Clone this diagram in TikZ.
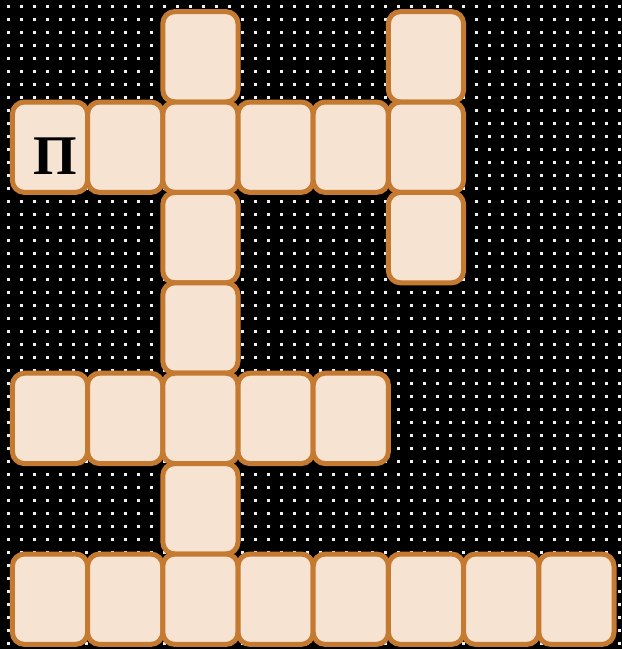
\documentclass[tikz,border=0pt]{standalone}
\usepackage{fontspec}
\setmainfont{Liberation Serif}
\usetikzlibrary{positioning}
\definecolor{cellFill}{RGB}{246,227,210}
\definecolor{cellEdge}{RGB}{196,122,48}
\definecolor{dotGrey}{RGB}{240,240,240}

\begin{document}
\begin{tikzpicture}[x=1pt,y=-1pt,
    cell/.style={draw=cellEdge,fill=cellFill,line width=5pt,rounded corners=12pt,
      minimum width=75.2pt,minimum height=90.4pt,inner sep=0pt}]
  \fill[black] (0,0) rectangle (622,649);
  \useasboundingbox (0,0) rectangle (622,649);
  \foreach \i in {0,...,47}
    \foreach \j in {0,...,49}
      \fill[dotGrey] (6.5+13*\i,4.5+13*\j) rectangle ++(3,3);
  \foreach \r/\c in {0/3,0/6,
      1/1,1/2,1/3,1/4,1/5,1/6,
      2/3,2/6,3/3,
      4/1,4/2,4/3,4/4,4/5,
      5/3,
      6/1,6/2,6/3,6/4,6/5,6/6,6/7,6/8}
    \node[cell] (c-\r-\c) at (50+75.2*\c-75.2,56.8+90.4*\r) {};
  \node[font=\fontsize{56}{60}\selectfont\bfseries] (pe) at (55,156) {П};
\end{tikzpicture}
\end{document}
